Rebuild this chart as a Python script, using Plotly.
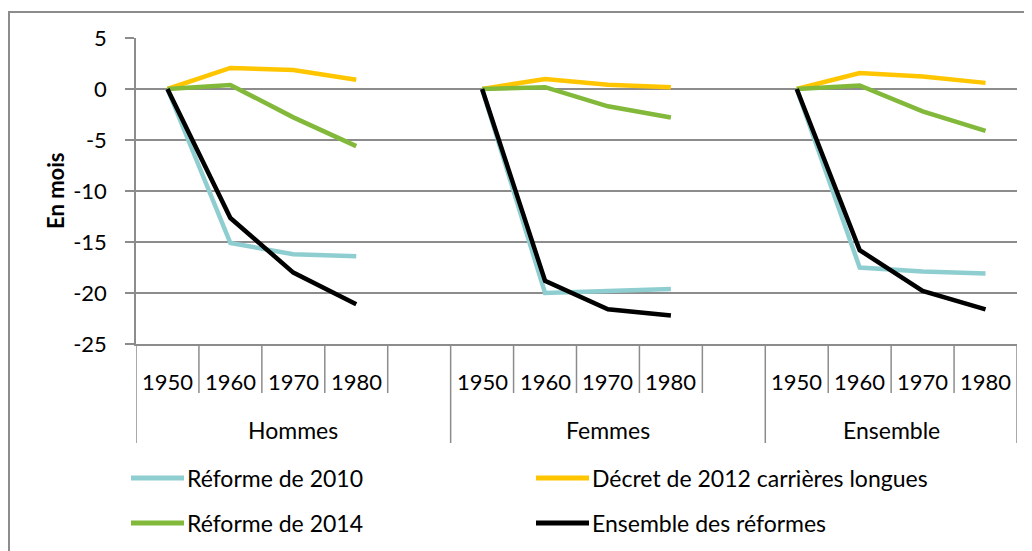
import plotly.graph_objects as go

# ---- data ----
groups = ["Hommes", "Femmes", "Ensemble"]
years = ["1950", "1960", "1970", "1980"]
series_names = ["Réforme de 2010", "Décret de 2012 carrières longues",
                "Réforme de 2014", "Ensemble des réformes"]
colors = ["#8FCED0", "#FFC600", "#82B93A", "#000000"]
y_ticks = [5, 0, -5, -10, -15, -20, -25]

reforme_2010 = {"Hommes": [0, -15.1, -16.2, -16.4],
                "Femmes": [0, -20.0, -19.8, -19.6],
                "Ensemble": [0, -17.5, -17.9, -18.1]}
decret_2012 = {"Hommes": [0, 2.06, 1.86, 0.9],
               "Femmes": [0, 0.98, 0.42, 0.18],
               "Ensemble": [0, 1.57, 1.22, 0.6]}
reforme_2014 = {"Hommes": [0, 0.4, -2.78, -5.6],
                "Femmes": [0, 0.18, -1.7, -2.8],
                "Ensemble": [0, 0.35, -2.2, -4.1]}
ensemble_reformes = {"Hommes": [0, -12.65, -18.0, -21.1],
                     "Femmes": [0, -18.8, -21.6, -22.2],
                     "Ensemble": [0, -15.8, -19.8, -21.6]}
all_series = [reforme_2010, decret_2012, reforme_2014, ensemble_reformes]

# slots per group (4 years + one blank slot, last group without blank)
group_slots = [5, 5, 4]
group_start = [0, 5, 10]
n_slots = sum(group_slots)

FONT = "Lato"
GRID = "#8C8C8C"

fig = go.Figure()
for name, col, data in zip(series_names, colors, all_series):
    xs, ys = [], []
    for g, s in zip(groups, group_start):
        xs += [s + i for i in range(len(years))] + [None]
        ys += data[g] + [None]
    fig.add_trace(go.Scatter(x=xs, y=ys, mode="lines", name=name,
                             line=dict(color=col, width=4.5),
                             connectgaps=False, showlegend=False,
                             hoverinfo="x+y+name"))

# page offset (browser body margin)
OFF = 8
# plot geometry in reference px
L, R, T, B = 136, 1017, 38, 344
W, H = 1032, 551
pw, ph = R - L, B - T

def py(ypx):
    return (B - ypx) / ph

def px(xpx):
    return (xpx - L) / pw

shapes = []
annotations = []

# category separators
for k in range(n_slots + 1):
    xb = k - 0.5
    is_group = (k in [0, 5, 10, n_slots])
    shapes.append(dict(type="line", xref="x", yref="paper", x0=xb, x1=xb,
                       y0=0, y1=py(443 if is_group else 393),
                       line=dict(color=GRID, width=1.5)))

# year labels
for s in group_start:
    for i, yr in enumerate(years):
        annotations.append(dict(x=s + i, y=py(381), xref="x", yref="paper",
                                xanchor="center", yanchor="middle",
                                text=yr, showarrow=False,
                                font=dict(family=FONT, size=22, color="black")))
# group labels
for g, s, n in zip(groups, group_start, group_slots):
    annotations.append(dict(x=s + (n - 1) / 2, y=py(430), xref="x", yref="paper",
                            xanchor="center", yanchor="middle",
                            text=g, showarrow=False,
                            font=dict(family=FONT, size=23, color="black")))

# y-axis title
annotations.append(dict(x=px(55), y=py(191), xref="paper", yref="paper",
                        xanchor="center", yanchor="middle",
                        text="<b>En mois</b>", textangle=-90, showarrow=False,
                        font=dict(family=FONT, size=22, color="black")))

# legend (manual, 2 columns)
leg_cols_x = [131, 536]
leg_rows_y = [478, 523]
for i, (name, col) in enumerate(zip(series_names, colors)):
    x0 = leg_cols_x[i % 2]
    yy = leg_rows_y[i // 2]
    shapes.append(dict(type="line", xref="paper", yref="paper",
                       x0=px(x0), x1=px(x0 + 53), y0=py(yy), y1=py(yy),
                       line=dict(color=col, width=5)))
    annotations.append(dict(x=px(x0 + 54), y=py(yy), xref="paper", yref="paper",
                            text=name, showarrow=False, xanchor="left",
                            yanchor="middle",
                            font=dict(family=FONT, size=23, color="black")))

# chart outer border
shapes.append(dict(type="rect", xref="paper", yref="paper",
                   x0=px(9), x1=px(1045), y0=py(12), y1=py(575),
                   line=dict(color=GRID, width=2), fillcolor="rgba(0,0,0,0)",
                   layer="below"))

fig.update_layout(
    width=W - OFF, height=H - OFF,
    margin=dict(l=L - OFF, r=W - R, t=T - OFF, b=H - B),
    paper_bgcolor="white", plot_bgcolor="white",
    font=dict(family=FONT, size=22, color="black"),
    showlegend=False,
    shapes=shapes, annotations=annotations,
    xaxis=dict(range=[-0.5, n_slots - 0.5], showgrid=False, zeroline=False,
               showticklabels=False, ticks="", showline=True,
               linecolor=GRID, linewidth=1.5, fixedrange=True),
    yaxis=dict(range=[-25, 5], tickvals=y_ticks,
               ticktext=[str(v) for v in y_ticks],
               showgrid=True, gridcolor=GRID,
               gridwidth=1.5, zeroline=False, showline=True, linecolor=GRID,
               linewidth=1.5, ticks="outside", ticklen=9, tickcolor=GRID,
               tickwidth=1.5, ticklabelstandoff=14,
               tickfont=dict(family=FONT, size=22, color="black"),
               fixedrange=True),
)

fig.write_html("out.html")
